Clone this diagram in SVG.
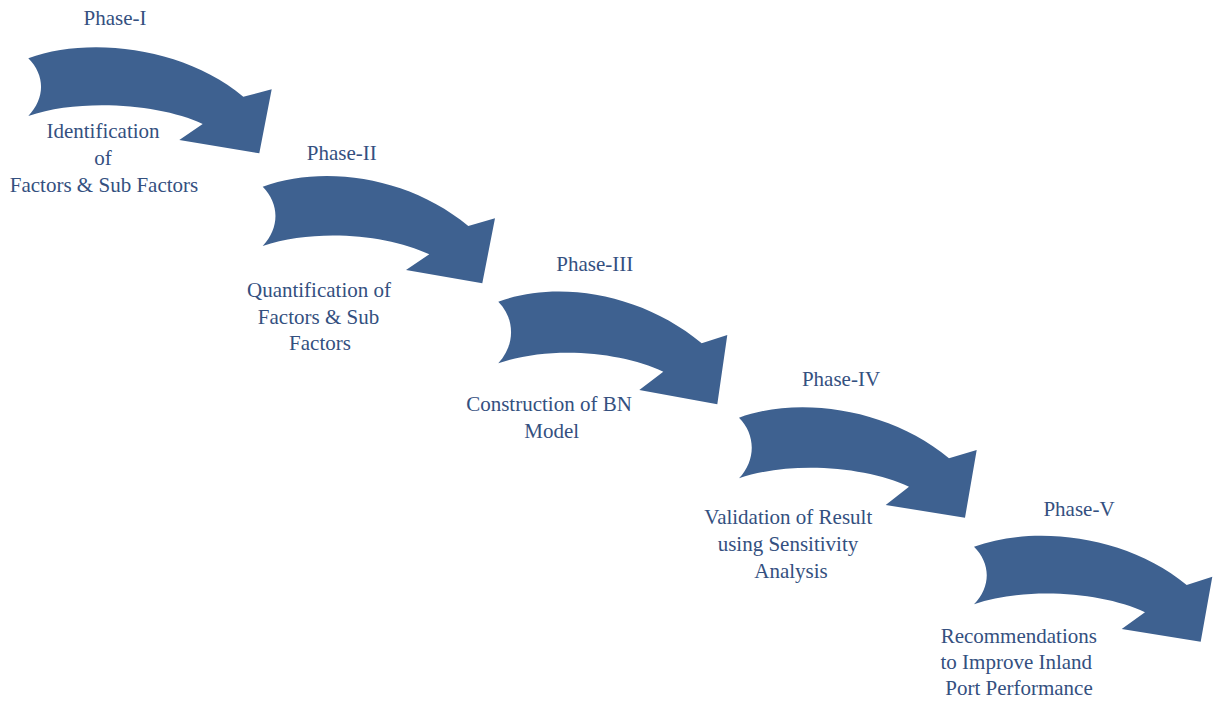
<svg xmlns="http://www.w3.org/2000/svg" width="1213" height="701" viewBox="0 0 1213 701">
<style>
.arrow{fill:#3e6190;stroke:none}
.t{font-family:"Liberation Serif","Times New Roman",serif;font-size:21px;fill:#34507f;text-anchor:middle}
</style>
<rect width="1213" height="701" fill="#ffffff"/>
<g id="phase1">
<path class="arrow" d="M28.3,58.3 C88.3,36.3 183.3,46.7 243.3,96.7 L271.7,89.3 L259.3,153.3 L179.3,140 L202.7,124 C160.7,104 80.3,98 28.3,116 C45.3,98 45.3,75.3 28.3,58.3Z"/>
<text class="t" x="115" y="25">Phase-I</text>
<text class="t" x="103" y="138">Identification</text>
<text class="t" x="103" y="165">of</text>
<text class="t" x="104" y="192">Factors &amp; Sub Factors</text>
</g>
<g id="phase2">
<path class="arrow" d="M262.7,186.7 C322.7,164.7 408.3,176 468.3,226 L495,218.3 L482.3,283.3 L406,270 L429.3,254.3 C387.3,234.3 314.7,228 262.7,246 C279.7,228 279.7,203.7 262.7,186.7Z"/>
<text class="t" x="341.7" y="160">Phase-II</text>
<text class="t" x="319" y="296.7">Quantification of</text>
<text class="t" x="318.5" y="323.5">Factors &amp; Sub</text>
<text class="t" x="320" y="350">Factors</text>
</g>
<g id="phase3">
<path class="arrow" d="M498.3,301.7 C558.3,279.7 641.7,293.3 701.7,343.3 L727.3,335 L717.3,404.3 L639.3,390 L663.3,371.7 C621.3,351.7 550.3,345.3 498.3,363.3 C515.3,345.3 515.3,318.7 498.3,301.7Z"/>
<text class="t" x="594.7" y="270.7">Phase-III</text>
<text class="t" x="549" y="411">Construction of BN</text>
<text class="t" x="551.7" y="437.5">Model</text>
</g>
<g id="phase4">
<path class="arrow" d="M739,417.7 C799,395.7 889,408.3 949,458.3 L976.7,450 L965,517.7 L885.7,505 L909,486.7 C867,466.7 791,460.3 739,478.3 C756,460.3 756,434.7 739,417.7Z"/>
<text class="t" x="841" y="385.7">Phase-IV</text>
<text class="t" x="788.3" y="524.3">Validation of Result</text>
<text class="t" x="788" y="551">using Sensitivity</text>
<text class="t" x="791" y="578">Analysis</text>
</g>
<g id="phase5">
<path class="arrow" d="M974,546.7 C1034,524.7 1126.7,535 1186.7,585 L1212.3,576.7 L1200.7,641.7 L1121.7,629 L1145,612.3 C1103,592.3 1026,586.3 974,604.3 C991,586.3 991,563.7 974,546.7Z"/>
<text class="t" x="1079" y="516">Phase-V</text>
<text class="t" x="1018.8" y="642.7">Recommendations</text>
<text class="t" x="1016.3" y="669.3">to Improve Inland</text>
<text class="t" x="1019" y="695">Port Performance</text>
</g>
<g id="connectors"></g>
</svg>
